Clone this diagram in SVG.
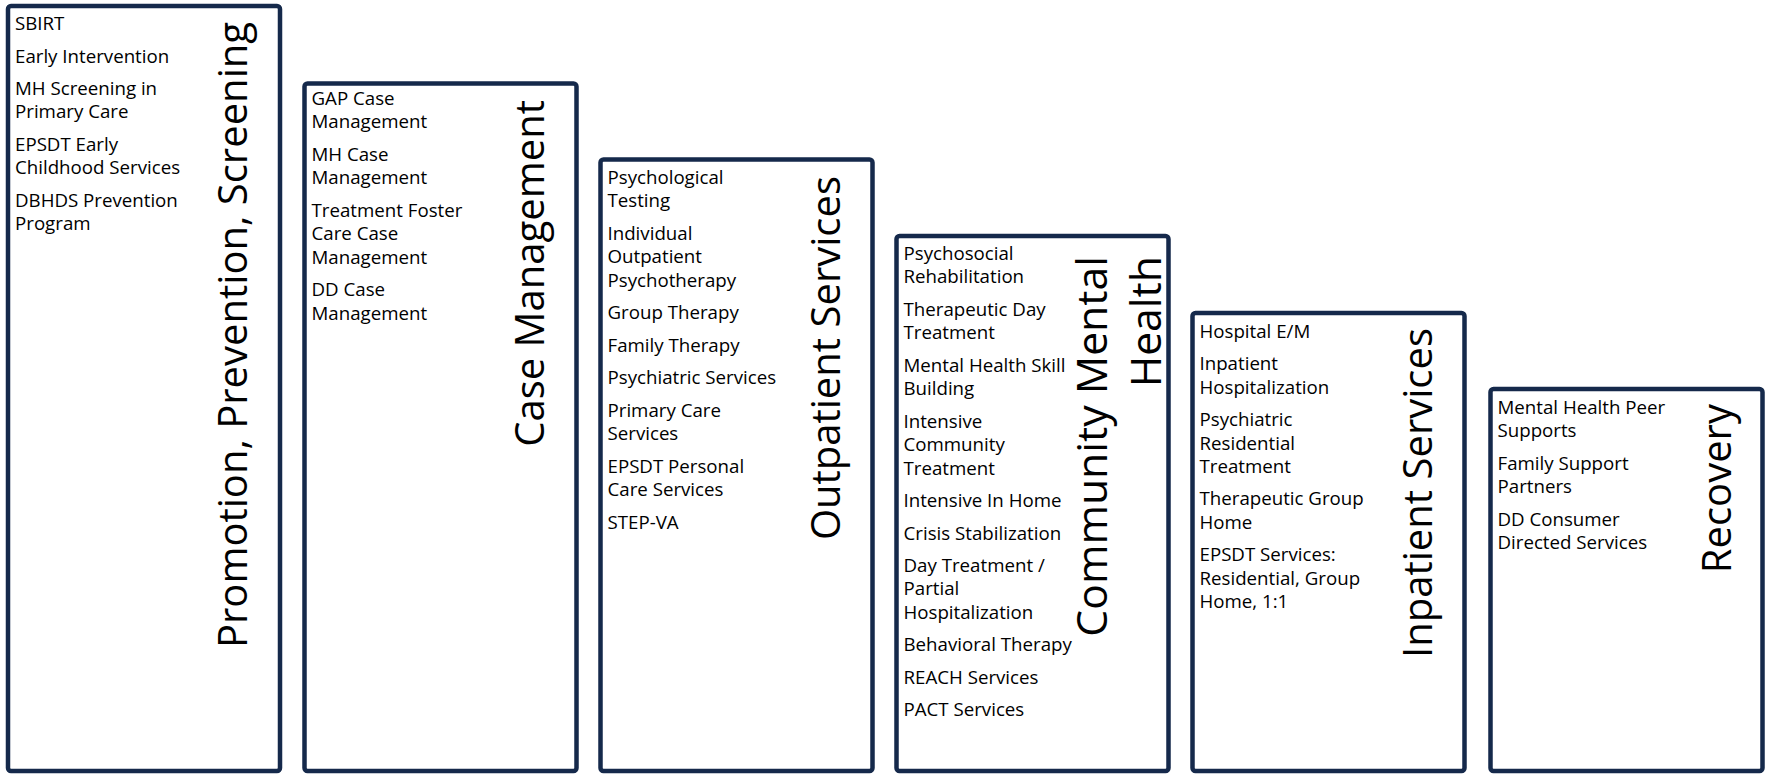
<svg xmlns="http://www.w3.org/2000/svg" width="1768" height="778" viewBox="0 0 1768 778">
<style>
.box{fill:#ffffff;stroke:#15294b;stroke-width:4.5}
.item{font-family:"Open Sans","Liberation Sans",sans-serif;font-size:18.7px;fill:#000000}
.title{font-family:"Open Sans","Liberation Sans",sans-serif;font-size:40px;fill:#000000;text-anchor:end}
.title-lg{font-size:42.7px}
</style>
<rect width="1768" height="778" fill="#ffffff"/>
<g id="connectors"></g>

<g id="node-promotion">
<rect class="box" x="8" y="6" width="272" height="765" rx="3"/>
<text class="item" x="15">
<tspan x="15" y="30">SBIRT</tspan>
<tspan x="15" y="62.5">Early Intervention</tspan>
<tspan x="15" y="95">MH Screening in</tspan>
<tspan x="15" y="118.4">Primary Care</tspan>
<tspan x="15" y="150.9">EPSDT Early</tspan>
<tspan x="15" y="174.3">Childhood Services</tspan>
<tspan x="15" y="206.8">DBHDS Prevention</tspan>
<tspan x="15" y="230.2">Program</tspan>
</text>
<text class="title" x="247" y="22" transform="rotate(-90 247 22)">Promotion, Prevention, Screening</text>
</g>

<g id="node-case-management">
<rect class="box" x="304.5" y="83.5" width="272" height="687.5" rx="3"/>
<text class="item">
<tspan x="311.5" y="105">GAP Case</tspan>
<tspan x="311.5" y="128.4">Management</tspan>
<tspan x="311.5" y="160.9">MH Case</tspan>
<tspan x="311.5" y="184.3">Management</tspan>
<tspan x="311.5" y="216.8">Treatment Foster</tspan>
<tspan x="311.5" y="240.2">Care Case</tspan>
<tspan x="311.5" y="263.6">Management</tspan>
<tspan x="311.5" y="296.1">DD Case</tspan>
<tspan x="311.5" y="319.5">Management</tspan>
</text>
<text class="title" x="543.5" y="100" transform="rotate(-90 543.5 100)">Case Management</text>
</g>

<g id="node-outpatient">
<rect class="box" x="600.5" y="159.5" width="272" height="611.5" rx="3"/>
<text class="item">
<tspan x="607.5" y="184">Psychological</tspan>
<tspan x="607.5" y="207.4">Testing</tspan>
<tspan x="607.5" y="239.9">Individual</tspan>
<tspan x="607.5" y="263.3">Outpatient</tspan>
<tspan x="607.5" y="286.7">Psychotherapy</tspan>
<tspan x="607.5" y="319.2">Group Therapy</tspan>
<tspan x="607.5" y="351.7">Family Therapy</tspan>
<tspan x="607.5" y="384.2">Psychiatric Services</tspan>
<tspan x="607.5" y="416.7">Primary Care</tspan>
<tspan x="607.5" y="440.1">Services</tspan>
<tspan x="607.5" y="472.6">EPSDT Personal</tspan>
<tspan x="607.5" y="496">Care Services</tspan>
<tspan x="607.5" y="528.5">STEP-VA</tspan>
</text>
<text class="title" x="839.5" y="176" transform="rotate(-90 839.5 176)">Outpatient Services</text>
</g>

<g id="node-community">
<rect class="box" x="896.5" y="236" width="272" height="535" rx="3"/>
<text class="item">
<tspan x="903.5" y="260">Psychosocial</tspan>
<tspan x="903.5" y="283.4">Rehabilitation</tspan>
<tspan x="903.5" y="315.9">Therapeutic Day</tspan>
<tspan x="903.5" y="339.3">Treatment</tspan>
<tspan x="903.5" y="371.8">Mental Health Skill</tspan>
<tspan x="903.5" y="395.2">Building</tspan>
<tspan x="903.5" y="427.7">Intensive</tspan>
<tspan x="903.5" y="451.1">Community</tspan>
<tspan x="903.5" y="474.5">Treatment</tspan>
<tspan x="903.5" y="507">Intensive In Home</tspan>
<tspan x="903.5" y="539.5">Crisis Stabilization</tspan>
<tspan x="903.5" y="572">Day Treatment /</tspan>
<tspan x="903.5" y="595.4">Partial</tspan>
<tspan x="903.5" y="618.8">Hospitalization</tspan>
<tspan x="903.5" y="651.3">Behavioral Therapy</tspan>
<tspan x="903.5" y="683.8">REACH Services</tspan>
<tspan x="903.5" y="716.3">PACT Services</tspan>
</text>
<text class="title title-lg" x="1107" y="256" transform="rotate(-90 1107 256)">Community Mental</text>
<text class="title title-lg" x="1161" y="256" transform="rotate(-90 1161 256)">Health</text>
</g>

<g id="node-inpatient">
<rect class="box" x="1192.5" y="313" width="272" height="458" rx="3"/>
<text class="item">
<tspan x="1199.5" y="337.7">Hospital E/M</tspan>
<tspan x="1199.5" y="370.2">Inpatient</tspan>
<tspan x="1199.5" y="393.6">Hospitalization</tspan>
<tspan x="1199.5" y="426.1">Psychiatric</tspan>
<tspan x="1199.5" y="449.5">Residential</tspan>
<tspan x="1199.5" y="472.9">Treatment</tspan>
<tspan x="1199.5" y="505.4">Therapeutic Group</tspan>
<tspan x="1199.5" y="528.8">Home</tspan>
<tspan x="1199.5" y="561.3">EPSDT Services:</tspan>
<tspan x="1199.5" y="584.7">Residential, Group</tspan>
<tspan x="1199.5" y="608.1">Home, 1:1</tspan>
</text>
<text class="title" x="1432" y="328" transform="rotate(-90 1432 328)">Inpatient Services</text>
</g>

<g id="node-recovery">
<rect class="box" x="1490.5" y="389" width="272" height="382" rx="3"/>
<text class="item">
<tspan x="1497.5" y="414">Mental Health Peer</tspan>
<tspan x="1497.5" y="437.4">Supports</tspan>
<tspan x="1497.5" y="469.9">Family Support</tspan>
<tspan x="1497.5" y="493.3">Partners</tspan>
<tspan x="1497.5" y="525.8">DD Consumer</tspan>
<tspan x="1497.5" y="549.2">Directed Services</tspan>
</text>
<text class="title" x="1731" y="404" transform="rotate(-90 1731 404)">Recovery</text>
</g>
</svg>
